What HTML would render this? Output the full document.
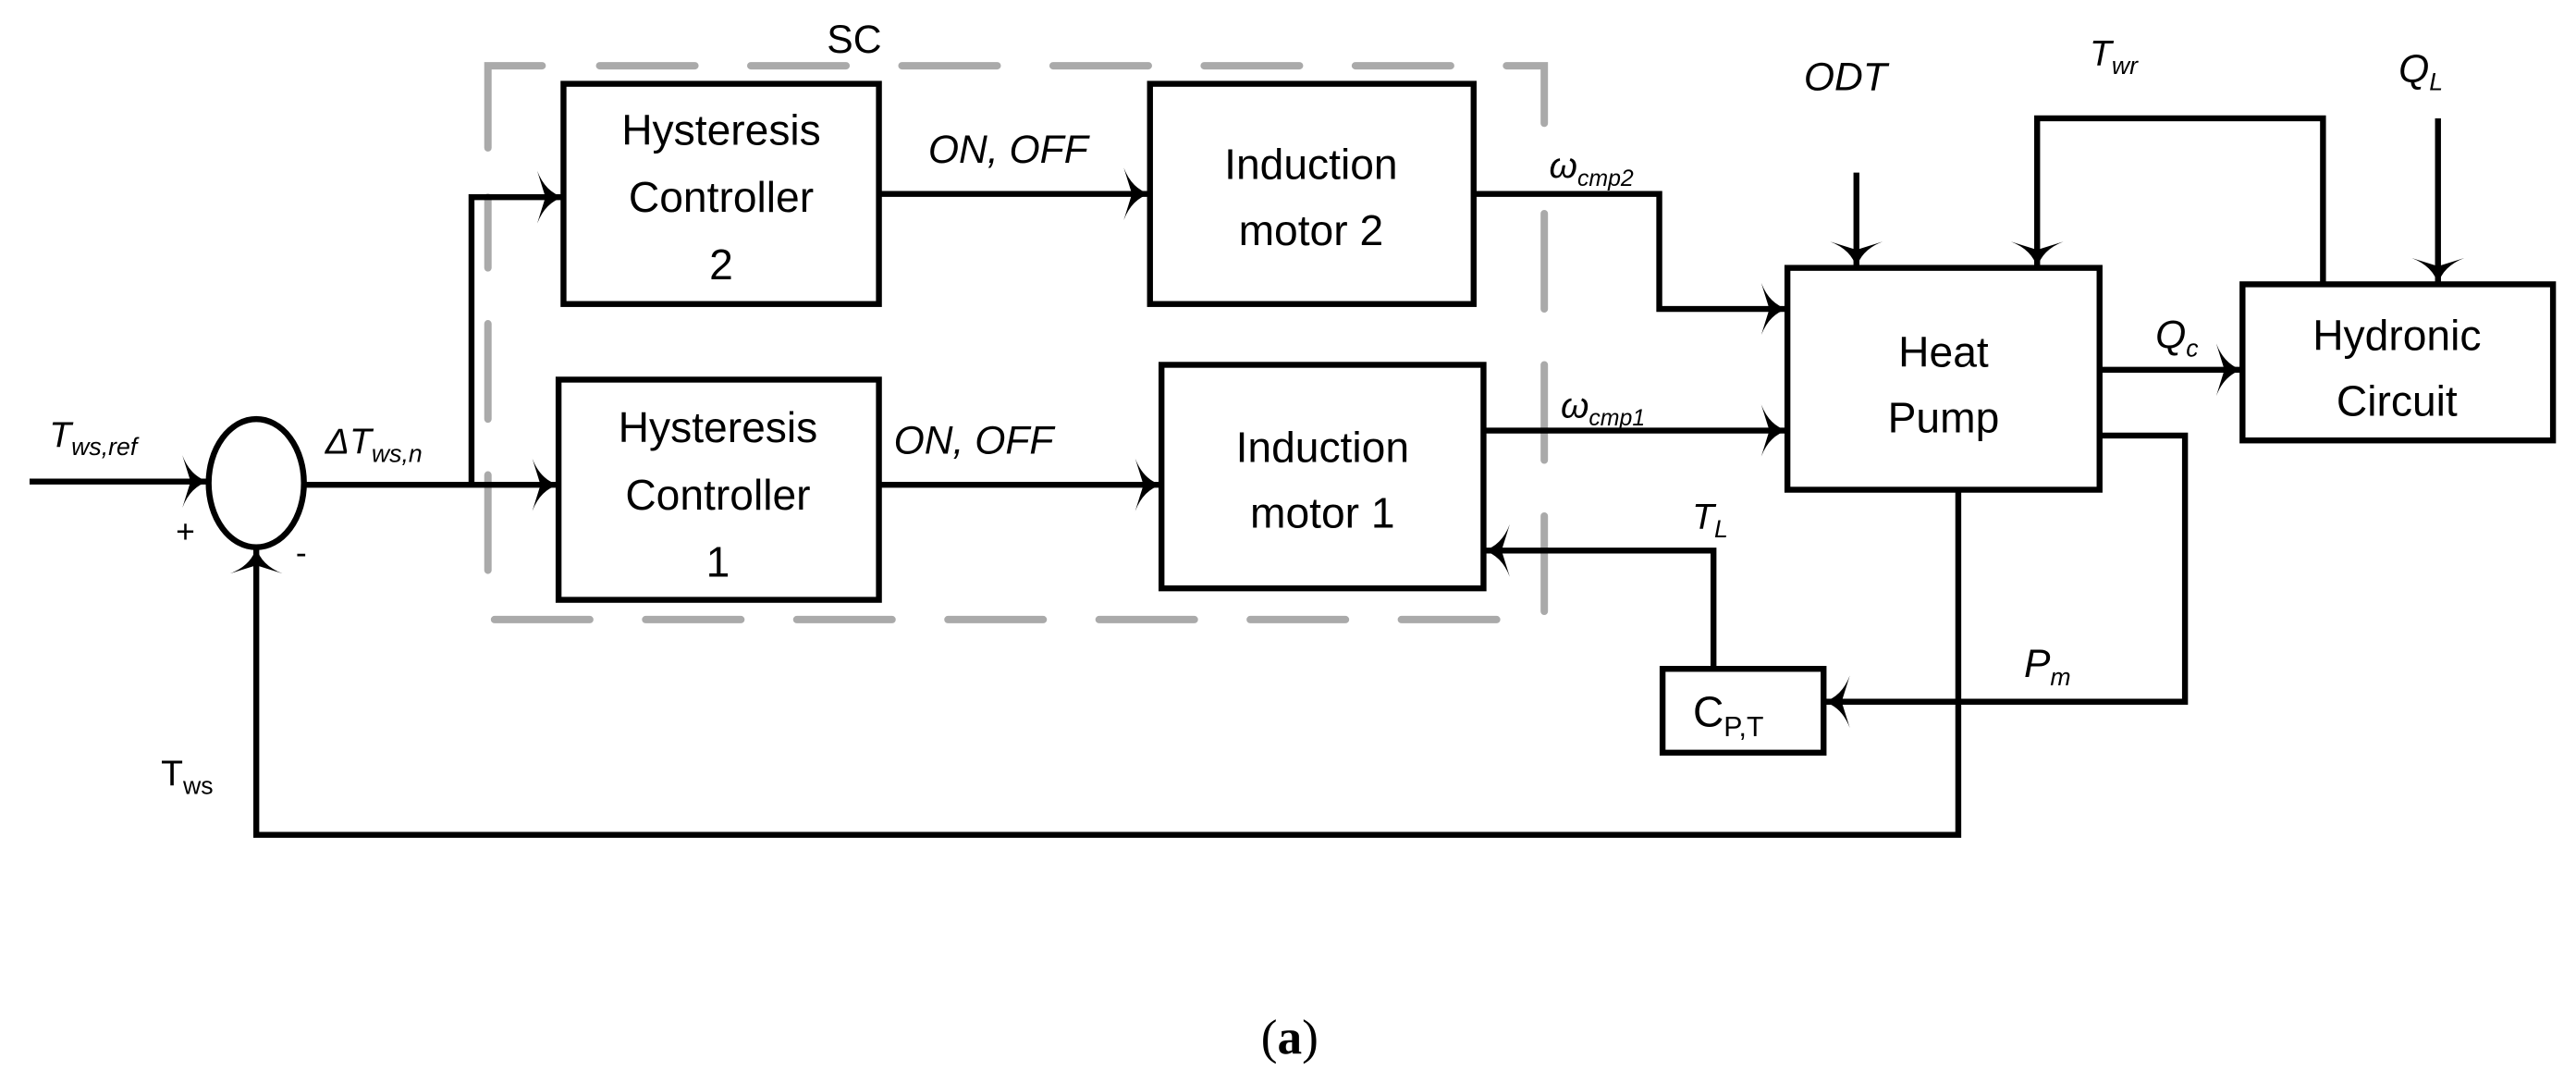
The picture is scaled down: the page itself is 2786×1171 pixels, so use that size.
<!DOCTYPE html>
<html><head><meta charset="utf-8"><style>
html,body{margin:0;padding:0;background:#fff;}
svg{display:block;}
text{font-family:"Liberation Sans",sans-serif;fill:#000;}
.it{font-style:italic;}
</style></head><body>
<svg width="2786" height="1171" viewBox="0 0 1568 659" preserveAspectRatio="none" xmlns="http://www.w3.org/2000/svg">
<defs>
<marker id="a" viewBox="-20 -20 22 40" refX="0" refY="0" markerWidth="22" markerHeight="40" markerUnits="userSpaceOnUse" orient="auto">
<path d="M0,0 Q-11,3 -16,16 L-11,0 L-16,-16 Q-11,-3 0,0Z" fill="#000"/>
</marker>
</defs>
<g stroke="#aaa" stroke-width="4.5" fill="none" stroke-linecap="round">
<path d="M297,90 V40 H330"/>
<path d="M365,40 H940 V90" stroke-dasharray="58 34"/>
<path d="M940,130 V377 H297 V120" stroke-dasharray="58 34"/>
</g>
<text x="520" y="32" font-size="24" text-anchor="middle">SC</text>
<g stroke="#000" stroke-width="3.6" fill="none">
<rect x="343" y="51" width="192" height="134"/>
<rect x="340" y="231" width="195" height="134"/>
<rect x="700" y="51" width="197" height="134"/>
<rect x="707" y="222" width="196" height="136"/>
<rect x="1088" y="163" width="190" height="135"/>
<rect x="1365" y="173" width="189" height="95"/>
<rect x="1012" y="407" width="98" height="51"/>
<ellipse cx="156" cy="294" rx="29" ry="39"/>
</g>
<g font-size="26" text-anchor="middle">
<text x="439" y="88">Hysteresis</text><text x="439" y="129">Controller</text><text x="439" y="170">2</text>
<text x="437" y="269">Hysteresis</text><text x="437" y="310">Controller</text><text x="437" y="351">1</text>
<text x="798" y="109">Induction</text><text x="798" y="149">motor 2</text>
<text x="805" y="281">Induction</text><text x="805" y="321">motor 1</text>
<text x="1183" y="223">Heat</text><text x="1183" y="263">Pump</text>
<text x="1459" y="213">Hydronic</text><text x="1459" y="253">Circuit</text>
<text x="1052" y="442">C<tspan font-size="17" dy="6">P,T</tspan></text>
</g>
<g stroke="#000" stroke-width="3.6" fill="none" marker-end="url(#a)">
<path d="M18,293 H127"/>
<path d="M185,295 H340"/>
<path d="M287,295 V120 H343"/>
<path d="M535,118 H700"/>
<path d="M535,295 H707"/>
<path d="M897,118 H1010 V188 H1088"/>
<path d="M903,262 H1088"/>
<path d="M1278,225 H1365"/>
<path d="M1278,265 H1330 V427 H1110"/>
<path d="M1043,407 V335 H903"/>
<path d="M1192,298 V508 H156 V333"/>
<path d="M1130,105 V163"/>
<path d="M1414,173 V72 H1240 V163"/>
<path d="M1484,72 V173"/>
</g>
<g font-size="22">
<text class="it" x="30" y="272">T<tspan font-size="15" dy="5">ws,ref</tspan></text>
<text class="it" x="198" y="276">ΔT<tspan font-size="15" dy="5">ws,n</tspan></text>
<text x="107" y="330" font-size="20">+</text>
<text x="180" y="343" font-size="20">-</text>
<text class="it" x="565" y="99" font-size="24">ON, OFF</text>
<text class="it" x="544" y="276" font-size="24">ON, OFF</text>
<text class="it" x="943" y="108">ω<tspan font-size="14" dy="5">cmp2</tspan></text>
<text class="it" x="950" y="254">ω<tspan font-size="14" dy="5">cmp1</tspan></text>
<text class="it" x="1312" y="212" font-size="24">Q<tspan font-size="15" dy="5">c</tspan></text>
<text class="it" x="1232" y="412" font-size="24">P<tspan font-size="15" dy="5">m</tspan></text>
<text class="it" x="1030" y="322">T<tspan font-size="15" dy="5">L</tspan></text>
<text x="98" y="478">T<tspan font-size="15" dy="5">ws</tspan></text>
<text class="it" x="1098" y="55" font-size="24">ODT</text>
<text class="it" x="1272" y="40">T<tspan font-size="15" dy="5">wr</tspan></text>
<text class="it" x="1460" y="50" font-size="24">Q<tspan font-size="15" dy="5">L</tspan></text>
</g>
<text x="785" y="641" font-size="30" text-anchor="middle" style="font-family:'Liberation Serif',serif">(<tspan font-weight="bold">a</tspan>)</text>
</svg>
</body></html>
